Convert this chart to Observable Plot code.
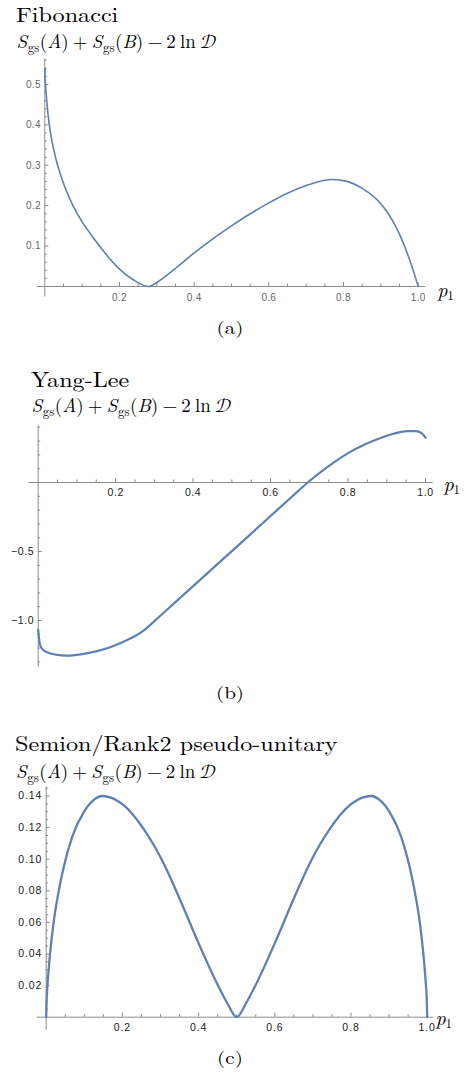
<!DOCTYPE html>
<html><head><meta charset="utf-8">
<script src="https://cdn.jsdelivr.net/npm/d3@7"></script>
<script src="https://cdn.jsdelivr.net/npm/@observablehq/plot@0.6"></script>
<style>
body{margin:0;background:#fff;}
#wrap{position:relative;width:469px;height:1072px;overflow:hidden;background:#fff;}
.t{position:absolute;font-family:"Latin Modern Roman","Liberation Serif",serif;line-height:1;white-space:nowrap;color:#000;}
.title{font-size:21px;transform:scaleX(1.15);transform-origin:0 0;}
.sub{font-size:19px;word-spacing:-2.2px;}
.sub i{font-style:italic}
.sub sub{font-size:13px;font-style:normal;vertical-align:-4px;line-height:0;margin-left:0.6px;margin-right:0.4px}
.sub .cal{font-family:"Latin Modern Math","STIX Two Math","DejaVu Sans",serif;}
.cap{font-size:17px;width:60px;text-align:center;transform:scaleX(1.24);transform-origin:50% 0;}
.plot{position:absolute;left:0;}
</style></head><body><div id="wrap"></div>
<script>
// ---- data ----
const titles = ["Fibonacci", "Yang-Lee", "Semion/Rank2 pseudo-unitary"];
const captions = ["(a)", "(b)", "(c)"];

const fibP1 = [0, 0.002, 0.005, 0.01, 0.015, 0.02, 0.03, 0.04, 0.055, 0.076, 0.1, 0.125, 0.145, 0.17, 0.2, 0.238, 0.279, 0.3, 0.35, 0.4, 0.45, 0.5, 0.55, 0.6, 0.65, 0.7, 0.75, 0.765, 0.8, 0.85, 0.9, 0.92, 0.94, 0.96, 0.98, 0.99, 1.0];
const fibS  = [0.54, 0.50, 0.462, 0.415, 0.382, 0.356, 0.315, 0.283, 0.243, 0.199, 0.160, 0.127, 0.102, 0.073, 0.043, 0.016, 0, 0.010, 0.045, 0.083, 0.118, 0.150, 0.180, 0.207, 0.231, 0.250, 0.263, 0.265, 0.262, 0.243, 0.205, 0.180, 0.148, 0.108, 0.058, 0.030, 0];

const ylP1 = [0, 0.004, 0.01, 0.023, 0.045, 0.075, 0.11, 0.152, 0.212, 0.273, 0.3, 0.35, 0.4, 0.45, 0.5, 0.55, 0.6, 0.65, 0.696, 0.75, 0.8, 0.84, 0.884, 0.92, 0.953, 0.975, 0.99, 1.0];
const ylS  = [-1.068, -1.169, -1.205, -1.23, -1.247, -1.254, -1.245, -1.222, -1.164, -1.072, -1.005, -0.878, -0.751, -0.624, -0.497, -0.37, -0.243, -0.116, 0, 0.118, 0.213, 0.272, 0.323, 0.355, 0.373, 0.373, 0.358, 0.325];

const semP1 = [0, 0.001, 0.003, 0.006, 0.01, 0.02, 0.033, 0.046, 0.068, 0.099, 0.125, 0.147, 0.17, 0.204, 0.256, 0.309, 0.352, 0.396, 0.449, 0.475, 0.5, 0.525, 0.551, 0.604, 0.648, 0.691, 0.744, 0.796, 0.83, 0.853, 0.875, 0.901, 0.932, 0.954, 0.967, 0.98, 0.99, 0.994, 0.997, 0.999, 1.0];
const semS  = [0, 0.010, 0.019, 0.029, 0.040, 0.061, 0.080, 0.095, 0.114, 0.130, 0.1375, 0.140, 0.139, 0.134, 0.119, 0.097, 0.074, 0.049, 0.021, 0.009, 0, 0.009, 0.021, 0.049, 0.074, 0.097, 0.119, 0.134, 0.139, 0.140, 0.1375, 0.130, 0.114, 0.095, 0.080, 0.061, 0.040, 0.029, 0.019, 0.010, 0];

// tick labels
const xMajorTicks = [0.2, 0.4, 0.6, 0.8, 1.0];
const xMinorTicks = [0.05, 0.1, 0.15, 0.25, 0.3, 0.35, 0.45, 0.5, 0.55, 0.65, 0.7, 0.75, 0.85, 0.9, 0.95];
const fibYMajor = [0.1, 0.2, 0.3, 0.4, 0.5];
const fibYMinor = [0.02, 0.04, 0.06, 0.08, 0.12, 0.14, 0.16, 0.18, 0.22, 0.24, 0.26, 0.28, 0.32, 0.34, 0.36, 0.38, 0.42, 0.44, 0.46, 0.48, 0.52, 0.54, 0.56];
const ylYMajor = [-1.0, -0.5];
const ylYMinor = [-1.3, -1.2, -1.1, -0.9, -0.8, -0.7, -0.6, -0.4, -0.3, -0.2, -0.1, 0.1, 0.2, 0.3, 0.4];
const semYMajor = [0.02, 0.04, 0.06, 0.08, 0.10, 0.12, 0.14];
const semYMinor = [0.005, 0.01, 0.015, 0.025, 0.03, 0.035, 0.045, 0.05, 0.055, 0.065, 0.07, 0.075, 0.085, 0.09, 0.095, 0.105, 0.11, 0.115, 0.125, 0.13, 0.135, 0.145];

// ---- layout ----
const wrap = document.getElementById("wrap");
function addText(cls, html, left, top) {
  const d = document.createElement("div");
  d.className = "t " + cls; d.innerHTML = html;
  d.style.left = left + "px"; d.style.top = top + "px";
  wrap.appendChild(d); return d;
}
const subHTML = '<i>S</i><sub>gs</sub>(<i>A</i>) + <i>S</i><sub>gs</sub>(<i>B</i>) − 2 ln <span class="cal">𝒟</span>';
const minusFmt = d => (d < 0 ? "\u2212" : "") + Math.abs(d).toFixed(1);

const LINE = "#5E81B5", AXIS = "#8c8c8c";
const SERIF = "Latin Modern Roman, Liberation Serif, serif";
const panels = [
  {xs: fibP1, ys: fibS, tl: 15.5, tt: 2.5, sl: 16.5, st: 31.3, ct: 319,
   top: 50, height: 260, mL: 44.3, mR: 51.3, mT: 34, mB: 24, yDomain: [0, 0.5],
   xAxis: [-0.02, 1.02], yAxis: [-0.026, 0.564], yMajor: fibYMajor, yMinor: fibYMinor,
   yFmt: d3.format(".1f"), lc: "#666", fs: 10, ls: "0.3px", xdy: 11.7, sw: 1.6, pdx: 19, pb: 10},
  {xs: ylP1, ys: ylS, tl: 31, tt: 368, sl: 31.5, st: 394.6, ct: 683.8,
   top: 415, height: 260, mL: 37.7, mR: 44, mT: 67, mB: 55, yDomain: [-1, 0],
   xAxis: [-0.024, 1.02], yAxis: [-1.34, 0.413], yMajor: ylYMajor, yMinor: ylYMinor,
   yFmt: minusFmt, lc: "#1a1a1a", fs: 10.5, ls: "0.6px", xdy: 10.3, sw: 2.2, pdx: 18, pb: 8},
  {xs: semP1, ys: semS, tl: 14.5, tt: 732, sl: 16, st: 760.6, ct: 1049.3,
   top: 780, height: 262, mL: 45.7, mR: 42.3, mT: 15.5, mB: 25.3, yDomain: [0, 0.14],
   xAxis: [-0.0236, 1.017], yAxis: [-0.0084, 0.1457], yMajor: semYMajor, yMinor: semYMinor,
   yFmt: d3.format(".2f"), lc: "#1a1a1a", fs: 10.5, ls: "0.9px", xdy: 10.6, sw: 2.3, pdx: 8.3, pb: 7.5}
];

panels.forEach((p, k) => {
  addText("title", titles[k], p.tl, p.tt);
  addText("sub", subHTML, p.sl, p.st);
  addText("cap", captions[k], 200, p.ct);

  const tickStroke = {stroke: AXIS, strokeWidth: 1};
  const lab = {fill: p.lc, fontSize: p.fs, fontFamily: "Liberation Sans, Arial, sans-serif"};
  const chart = Plot.plot({
    width: 469, height: p.height,
    marginLeft: p.mL, marginRight: p.mR, marginTop: p.mT, marginBottom: p.mB,
    x: {domain: [0, 1], axis: null},
    y: {domain: p.yDomain, axis: null},
    style: {background: "transparent", overflow: "visible", letterSpacing: p.ls},
    marks: [
      Plot.ruleY([0], {x1: p.xAxis[0], x2: p.xAxis[1], ...tickStroke}),
      Plot.ruleX([0], {y1: p.yAxis[0], y2: p.yAxis[1], ...tickStroke}),
      Plot.ruleX(xMinorTicks, {x: d => d, y1: 0, y2: 0, insetBottom: 2.5, ...tickStroke}),
      Plot.ruleX(xMajorTicks, {x: d => d, y1: 0, y2: 0, insetBottom: 4, ...tickStroke}),
      Plot.ruleY(p.yMinor, {y: d => d, x1: 0, x2: 0, insetRight: -2.5, ...tickStroke}),
      Plot.ruleY(p.yMajor, {y: d => d, x1: 0, x2: 0, insetRight: -4, ...tickStroke}),
      Plot.text(xMajorTicks, {x: d => d, y: 0, text: d => d.toFixed(1), dy: p.xdy, ...lab}),
      Plot.text(p.yMajor, {x: 0, y: d => d, text: d => p.yFmt(d), textAnchor: "end", dx: -4, ...lab}),
      Plot.line(p.xs, {x: p.xs, y: p.ys, stroke: LINE, strokeWidth: p.sw, curve: "monotone-x"}),
      Plot.text(["p"], {x: 1, y: 0, text: d => d, textAnchor: "start", dx: p.pdx, dy: p.pb - 6.4,
        fontSize: 20, fontStyle: "italic", fontFamily: SERIF, fill: "#000"}),
      Plot.text(["1"], {x: 1, y: 0, text: d => d, textAnchor: "start", dx: p.pdx + 10, dy: p.pb - 0.7,
        fontSize: 13, fontFamily: SERIF, fill: "#000"})
    ]
  });
  chart.classList.add("plot");
  chart.style.top = p.top + "px";
  wrap.appendChild(chart);
});
</script></body></html>
